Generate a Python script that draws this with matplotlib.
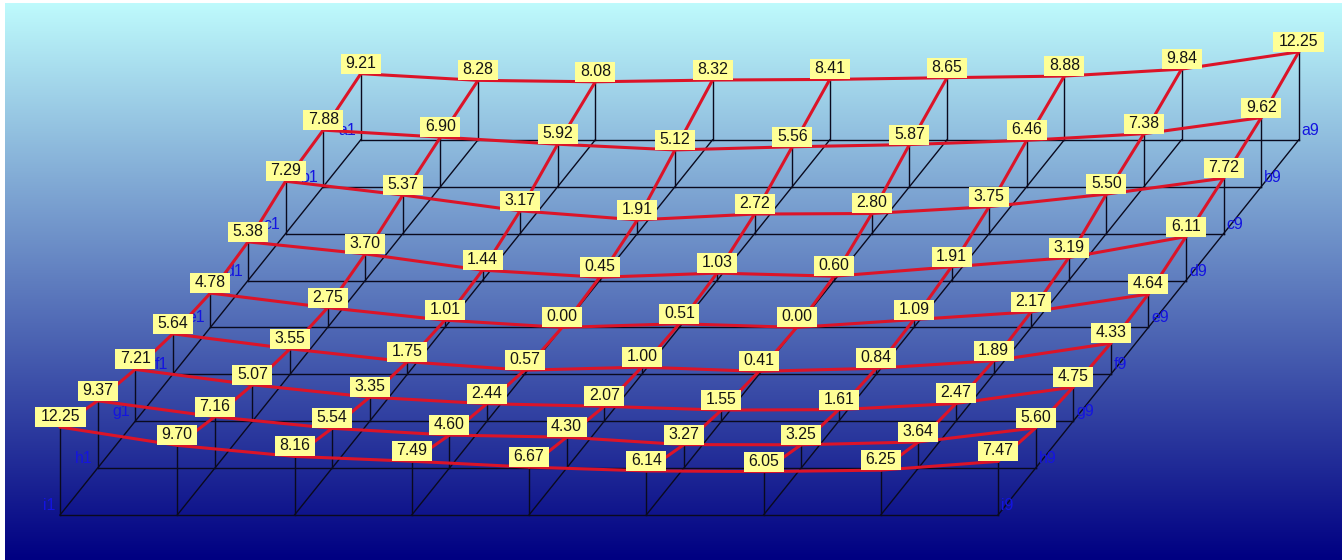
#!/usr/bin/env python

# oblique 3d surface chart, rows a..i front to back are drawn from i (front)

import numpy as np
import matplotlib
matplotlib.use('Agg')
import matplotlib.pyplot as plt
from matplotlib.patches import Rectangle

plt.rc('font', family=['Liberation Sans', 'DejaVu Sans'])

rows = ['a', 'b', 'c', 'd', 'e', 'f', 'g', 'h', 'i']
cols = [1, 2, 3, 4, 5, 6, 7, 8, 9]

row_a = [9.21, 8.28, 8.08, 8.32, 8.41, 8.65, 8.88, 9.84, 12.25]
row_b = [7.88, 6.90, 5.92, 5.12, 5.56, 5.87, 6.46, 7.38, 9.62]
row_c = [7.29, 5.37, 3.17, 1.91, 2.72, 2.80, 3.75, 5.50, 7.72]
row_d = [5.38, 3.70, 1.44, 0.45, 1.03, 0.60, 1.91, 3.19, 6.11]
row_e = [4.78, 2.75, 1.01, 0.00, 0.51, 0.00, 1.09, 2.17, 4.64]
row_f = [5.64, 3.55, 1.75, 0.57, 1.00, 0.41, 0.84, 1.89, 4.33]
row_g = [7.21, 5.07, 3.35, 2.44, 2.07, 1.55, 1.61, 2.47, 4.75]
row_h = [9.37, 7.16, 5.54, 4.60, 4.30, 3.27, 3.25, 3.64, 5.60]
row_i = [12.25, 9.70, 8.16, 7.49, 6.67, 6.14, 6.05, 6.25, 7.47]

z = np.array([row_a, row_b, row_c, row_d, row_e, row_f, row_g, row_h, row_i])

width, height = 1342, 560
fontsize = 11.4

# projection, pixels per grid step
x0, y0 = 60.0, 515.0
col_step = 117.25
depth_x, depth_y = 37.6, 46.9
z_scale = 7.18


def project(r, c, h=0.0):
    back = len(rows) - 1 - r
    return x0 + c * col_step + back * depth_x, y0 - back * depth_y - h * z_scale


fig = plt.figure(figsize=(width / 100, height / 100), dpi=100, facecolor='white')
ax = fig.add_axes([0, 0, 1, 1])

# background gradient
top = np.array([190, 250, 252]) / 255
bottom = np.array([0, 0, 130]) / 255
t = np.linspace(0, 1, 256)[:, None, None]
grad = top * (1 - t) + bottom * t
ax.imshow(grad, extent=[5, width, height, 3], aspect='auto', zorder=0)

ax.set_xlim(0, width)
ax.set_ylim(height, 0)
ax.axis('off')

nr, nc = z.shape
black = '#0a0a1e'

# floor grid
for r in range(nr):
    xs, ys = zip(project(r, 0), project(r, nc - 1))
    ax.plot(xs, ys, c=black, lw=1, zorder=1)
for c in range(nc):
    xs, ys = zip(project(0, c), project(nr - 1, c))
    ax.plot(xs, ys, c=black, lw=1, zorder=1)

# row labels on both ends of the floor
for r, name in enumerate(rows):
    xl, yl = project(r, 0)
    ax.text(xl - 5, yl - 9.5, name + str(cols[0]), color='#1414e0', fontsize=fontsize,
            ha='right', va='center', zorder=2)
    xl, yl = project(r, nc - 1)
    ax.text(xl + 3, yl - 9.5, name + str(cols[-1]), color='#1414e0', fontsize=fontsize,
            ha='left', va='center', zorder=2)

# verticals
for r in range(nr):
    for c in range(nc):
        xs, ys = zip(project(r, c), project(r, c, z[r, c]))
        ax.plot(xs, ys, c=black, lw=1, zorder=3)

# surface lines
cc, rr = np.meshgrid(np.arange(nc), np.arange(nr))
px, py = project(rr, cc, z)
red = '#dc1428'
for r in range(nr):
    ax.plot(px[r], py[r], c=red, lw=2.2, zorder=4, solid_capstyle='round')
for c in range(nc):
    ax.plot(px[:, c], py[:, c], c=red, lw=2.2, zorder=4, solid_capstyle='round')

# value boxes sit on top of each point
for r in range(nr):
    for c in range(nc):
        label = '%.2f' % z[r, c]
        w = 51 if len(label) > 4 else 40
        ax.add_patch(Rectangle((px[r, c] - w / 2, py[r, c] - 20), w, 20,
                               fc='#ffff96', ec='none', zorder=5))
        ax.text(px[r, c], py[r, c] - 10.5, label, color='#141414', fontsize=fontsize,
                ha='center', va='center', zorder=6)

fig.savefig('out.png', dpi=100)
